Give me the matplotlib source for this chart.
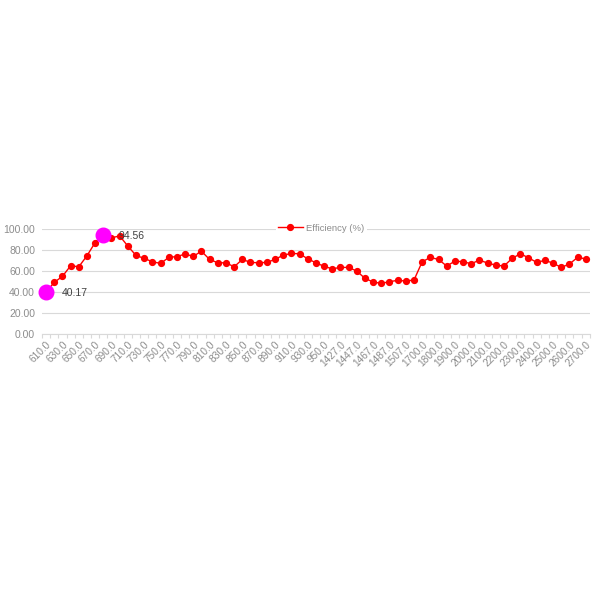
import matplotlib
matplotlib.use("Agg")
import matplotlib.pyplot as plt
import numpy as np

plt.rcParams['font.family'] = ['Liberation Sans', 'DejaVu Sans']

# категории (длина волны) и КПД
wavelengths = [610, 620, 630, 640, 650, 660, 670, 680, 690, 700,
               710, 720, 730, 740, 750, 760, 770, 780, 790, 800,
               810, 820, 830, 840, 850, 860, 870, 880, 890, 900,
               910, 920, 930, 940, 950, 1417, 1427, 1437, 1447, 1457,
               1467, 1477, 1487, 1497, 1507, 1517, 1700, 1750, 1800, 1850,
               1900, 1950, 2000, 2050, 2100, 2150, 2200, 2250, 2300, 2350,
               2400, 2450, 2500, 2550, 2600, 2650, 2700]
efficiency = [40.17, 49.4, 55.1, 65.2, 64.2, 74.7, 87.3, 94.56, 91.8, 93.6,
              83.9, 75.0, 72.2, 69.0, 67.4, 73.1, 74.0, 76.3, 74.2, 79.0,
              71.2, 68.0, 68.0, 64.2, 71.2, 68.4, 68.0, 68.4, 71.2, 75.3,
              76.9, 76.6, 71.8, 68.0, 64.6, 62.3, 63.6, 63.6, 60.1, 53.2,
              49.7, 48.4, 50.0, 51.3, 50.6, 51.6, 69.0, 73.1, 71.2, 64.9,
              69.6, 69.0, 67.1, 70.6, 67.7, 65.8, 64.9, 72.2, 76.6, 72.8,
              68.4, 70.3, 67.7, 63.6, 66.8, 73.1, 71.8]
highlight = [0, 7]  # минимум и максимум

labels = [f"{w:.1f}" for w in wavelengths]
x = np.arange(len(wavelengths))
eff = np.array(efficiency)

fig = plt.figure(figsize=(6, 6), dpi=100)
ax = fig.add_axes([0.07, 0.443, 0.913, 0.175])

ax.plot(x, eff, color='#FF0000', lw=1.0, marker='o', ms=4.2,
        mec='#FF0000', mfc='#FF0000', label='Efficiency (%)', zorder=3)
ax.plot(x[highlight], eff[highlight], 'o', color='#FF00FF', ms=10.5,
        zorder=4, clip_on=False)
for i in highlight:
    ax.annotate(f"{eff[i]:.2f}", (x[i], eff[i]), xytext=(11, -1),
                textcoords='offset points', va='center', ha='left',
                fontsize=7.5, color='#404040', zorder=5)

ax.set_xlim(-0.5, len(x) - 0.5)
ax.set_ylim(0, 100)
ax.set_yticks(np.arange(0, 101, 20))
ax.set_yticklabels([f"{v:.2f}" for v in range(0, 101, 20)])
ax.yaxis.grid(True, color='#D9D9D9', lw=0.8)
ax.set_axisbelow(True)

ax.set_xticks(x[::2])
ax.set_xticklabels(labels[::2], rotation=45, ha='right', rotation_mode='anchor')
ax.set_xticks(np.arange(-0.5, len(x)), minor=True)
ax.tick_params(axis='x', which='major', length=0, labelsize=7.3,
               labelcolor='#8C8C8C', pad=4)
ax.tick_params(axis='x', which='minor', length=3, color='#D9D9D9', width=0.8)
ax.tick_params(axis='y', length=0, labelsize=7.5, labelcolor='#8C8C8C', pad=5)

for s in ['top', 'right', 'left']:
    ax.spines[s].set_visible(False)
ax.spines['bottom'].set_color('#D9D9D9')
ax.spines['bottom'].set_linewidth(0.8)

leg = ax.legend(loc='center', bbox_to_anchor=(0.51, 1.01), frameon=True,
                fontsize=6.8, handlelength=2.6, borderpad=0.2, handletextpad=0.4)
leg.get_frame().set_edgecolor('none')
leg.get_frame().set_facecolor('white')
leg.get_frame().set_alpha(1)
for t in leg.get_texts():
    t.set_color('#8C8C8C')

fig.savefig("out.png", dpi=100)
